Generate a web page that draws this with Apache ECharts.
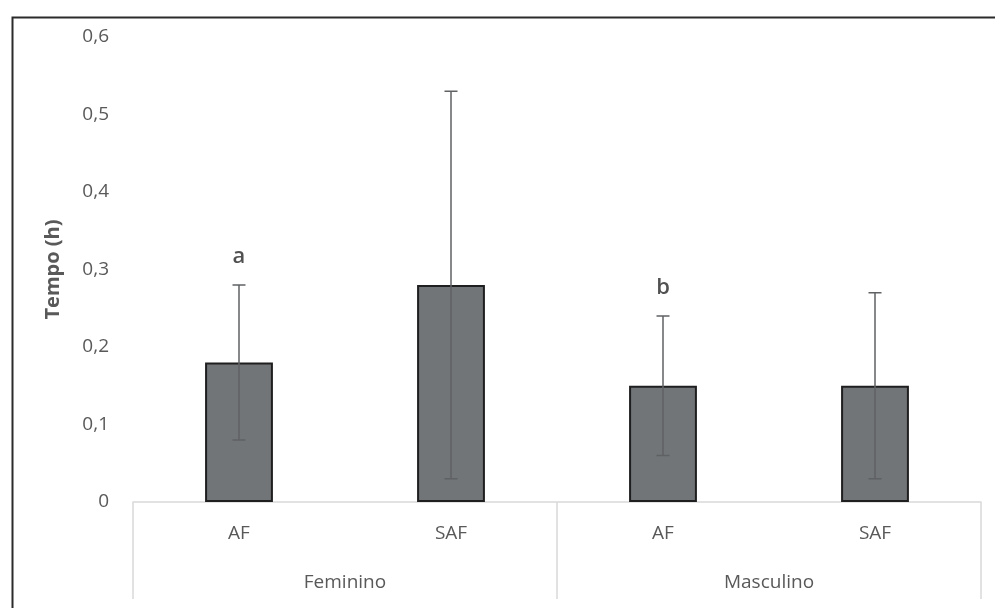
<!DOCTYPE html>
<html><head><meta charset="utf-8">
<script src="https://cdn.jsdelivr.net/npm/echarts@6/dist/echarts.min.js"></script>
<style>html,body{margin:0;padding:0;background:#fff}#c{width:995px;height:608px}</style>
</head><body><div id="c"></div>
<script>
const categories = ['AF', 'SAF', 'AF', 'SAF'];
const groups = ['Feminino', 'Masculino'];
const means = [0.18, 0.28, 0.15, 0.15];
const errLow = [0.08, 0.03, 0.06, 0.03];
const errHigh = [0.28, 0.53, 0.24, 0.27];
const letters = ['a', '', 'b', ''];
const yTicks = [0, 0.1, 0.2, 0.3, 0.4, 0.5, 0.6];

const font = '"Open Sans", "Noto Sans", sans-serif';
const chart = echarts.init(document.getElementById('c'));
chart.setOption({
  animation: false,
  backgroundColor: '#fff',
  graphic: [{
    type: 'rect', left: 10, top: 15, shape: { width: 1100, height: 700 },
    style: { fill: 'none', stroke: '#2b2b2b', lineWidth: 2 }, z: 100
  }],
  grid: { left: 133, right: 14, top: 37, bottom: 106 },
  xAxis: [{
    type: 'category', data: categories, position: 'bottom',
    axisLine: { show: true, lineStyle: { color: '#d9d9d9', width: 1.5 } },
    axisTick: { show: false },
    axisLabel: { color: '#595959', fontSize: 19, fontFamily: font, margin: 22 }
  }, {
    type: 'category', data: groups, position: 'bottom',
    axisLine: { show: false },
    axisTick: { show: true, length: 97, lineStyle: { color: '#d9d9d9', width: 1.5 } },
    axisLabel: { color: '#595959', fontSize: 19, fontFamily: font, margin: 71 }
  }],
  yAxis: {
    type: 'value', min: 0, max: 0.6, interval: 0.1,
    name: 'Tempo (h)', nameLocation: 'middle', nameGap: 70, nameRotate: 90,
    nameTextStyle: { color: '#595959', fontSize: 20, fontWeight: 'bold', fontFamily: font },
    axisLine: { show: false }, axisTick: { show: false }, splitLine: { show: false },
    axisLabel: {
      color: '#595959', fontSize: 19, fontFamily: font, margin: 24,
      formatter: v => {
        const t = yTicks.find(x => Math.abs(x - v) < 1e-9);
        return String(+(t !== undefined ? t : v).toFixed(1)).replace('.', ',');
      }
    }
  },
  series: [{
    type: 'bar', data: means, barWidth: '32%', xAxisIndex: 0,
    itemStyle: { color: '#717578', borderColor: '#1f1f1f', borderWidth: 2 }
  }, {
    type: 'custom', xAxisIndex: 0, z: 5,
    data: categories.map((c, i) => [i, errLow[i], errHigh[i]]),
    renderItem: (params, api) => {
      const x = api.value(0);
      const lo = api.coord([x, api.value(1)]);
      const hi = api.coord([x, api.value(2)]);
      const cap = 6.5;
      const st = { stroke: '#5f6163', lineWidth: 1.5 };
      return { type: 'group', children: [
        { type: 'line', shape: { x1: lo[0], y1: lo[1], x2: hi[0], y2: hi[1] }, style: st },
        { type: 'line', shape: { x1: lo[0] - cap, y1: lo[1], x2: lo[0] + cap, y2: lo[1] }, style: st },
        { type: 'line', shape: { x1: hi[0] - cap, y1: hi[1], x2: hi[0] + cap, y2: hi[1] }, style: st }
      ]};
    }
  }, {
    type: 'scatter', xAxisIndex: 0, symbolSize: 0, z: 6,
    data: categories.map((c, i) => ({ value: [i, errHigh[i]], label: { formatter: letters[i] } })),
    label: { show: true, position: 'top', distance: 17, color: '#262626', fontSize: 22, fontWeight: 600, fontFamily: font }
  }]
});
</script></body></html>
